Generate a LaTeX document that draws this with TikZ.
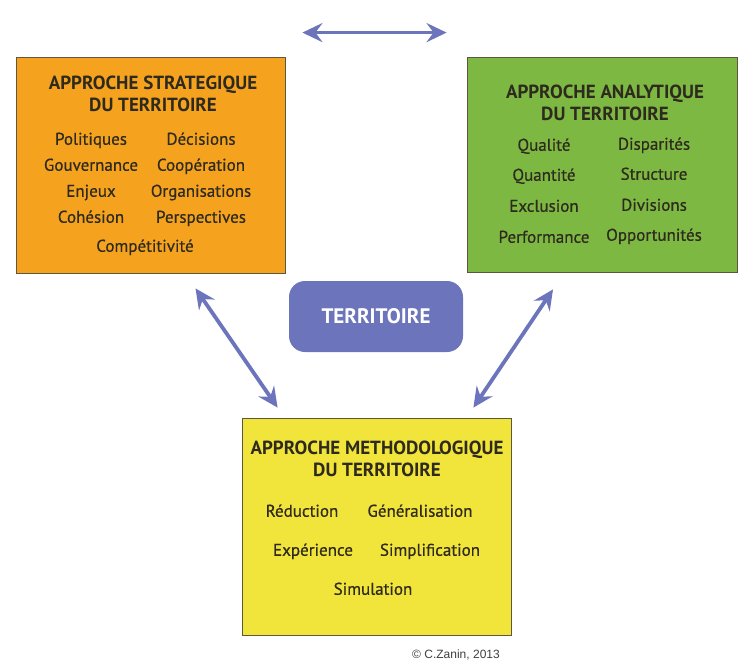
\documentclass[tikz,border=0pt]{standalone}
\usepackage{fontspec}
\setmainfont{PT Sans}
\newfontfamily\itemfont[FakeBold=0.6]{PT Sans}
\newfontfamily\creditfont{Liberation Sans}
\usetikzlibrary{positioning,arrows.meta,calc}
\definecolor{stratfill}{HTML}{F5A31F}
\definecolor{analfill}{HTML}{7DB843}
\definecolor{methfill}{HTML}{F1E43A}
\definecolor{terrfill}{HTML}{6C75BB}
\definecolor{boxline}{HTML}{5E5640}
\definecolor{ink}{HTML}{2E2A1E}

\begin{document}
\begin{tikzpicture}[x=1pt,y=-1pt,
    box/.style={draw=boxline, line width=0.8pt, inner sep=0pt},
    boxtitle/.style={font=\fontsize{19}{22}\selectfont\bfseries, align=center, text=ink, inner sep=0pt},
    item/.style={font=\itemfont\fontsize{17}{19}\selectfont, text=ink, inner sep=0pt, text height=1.4ex, text depth=0.3ex},
    link/.style={draw=terrfill, line width=3.8pt,
      {Stealth[length=20pt,width=19pt,inset=7pt]}-{Stealth[length=20pt,width=19pt,inset=7pt]}}]
  \useasboundingbox[fill=white] (0,0) rectangle (741,666);

  \node[box, fill=stratfill, minimum width=269pt, minimum height=216pt] (strat) at (150.5,165) {};
  \node[box, fill=analfill, minimum width=270pt, minimum height=215pt] (anal) at (602,164.5) {};
  \node[box, fill=methfill, minimum width=269pt, minimum height=217pt] (meth) at (376.5,526.5) {};
  \node[fill=terrfill, rounded corners=16pt, minimum width=174pt, minimum height=71pt,
        text=white, font=\fontsize{21}{23}\selectfont\bfseries] (terr) at (376,316.5) {TERRITOIRE};

  \node[boxtitle] (strattitle) at (153,94) {APPROCHE STRATEGIQUE\\DU TERRITOIRE};
  \node[item] (politiques) at (91,142) {Politiques};
  \node[item] (decisions) at (201,142) {Décisions};
  \node[item] (gouvernance) at (91,168) {Gouvernance};
  \node[item] (cooperation) at (201,168) {Coopération};
  \node[item] (enjeux) at (91,194) {Enjeux};
  \node[item] (organisations) at (201,194) {Organisations};
  \node[item] (cohesion) at (91,220) {Cohésion};
  \node[item] (perspectives) at (201,220) {Perspectives};
  \node[item] (competitivite) at (145,249) {Compétitivité};

  \node[boxtitle] (analtitle) at (605,102.5) {APPROCHE ANALYTIQUE\\DU TERRITOIRE};
  \node[item] (qualite) at (544,148) {Qualité};
  \node[item] (disparites) at (654,147) {Disparités};
  \node[item] (quantite) at (544,178) {Quantité};
  \node[item] (structure) at (654,177) {Structure};
  \node[item] (exclusion) at (544,209) {Exclusion};
  \node[item] (divisions) at (654,208) {Divisions};
  \node[item] (performance) at (544,240) {Performance};
  \node[item] (opportunites) at (654,238) {Opportunités};

  \node[boxtitle] (methtitle) at (377,459) {APPROCHE METHODOLOGIQUE\\DU TERRITOIRE};
  \node[item] (reduction) at (302,514) {Réduction};
  \node[item] (generalisation) at (420,514) {Généralisation};
  \node[item] (experience) at (313,553) {Expérience};
  \node[item] (simplification) at (430,553) {Simplification};
  \node[item] (simulation) at (373,592) {Simulation};

  \node[font=\creditfont\fontsize{12}{14}\selectfont, text=black!75] (credit) at (456,655) {© C.Zanin, 2013};

  \draw[link] ([xshift=17pt,yshift=24pt]strat.north east) -- ([xshift=-20pt,yshift=24pt]anal.north west);
  \draw[link] ([xshift=45pt,yshift=-15pt]strat.south) -- ([xshift=36pt,yshift=10pt]meth.north west);
  \draw[link] ([xshift=-49pt,yshift=-17pt]anal.south) -- ([xshift=-38pt,yshift=10pt]meth.north east);
\end{tikzpicture}
\end{document}
